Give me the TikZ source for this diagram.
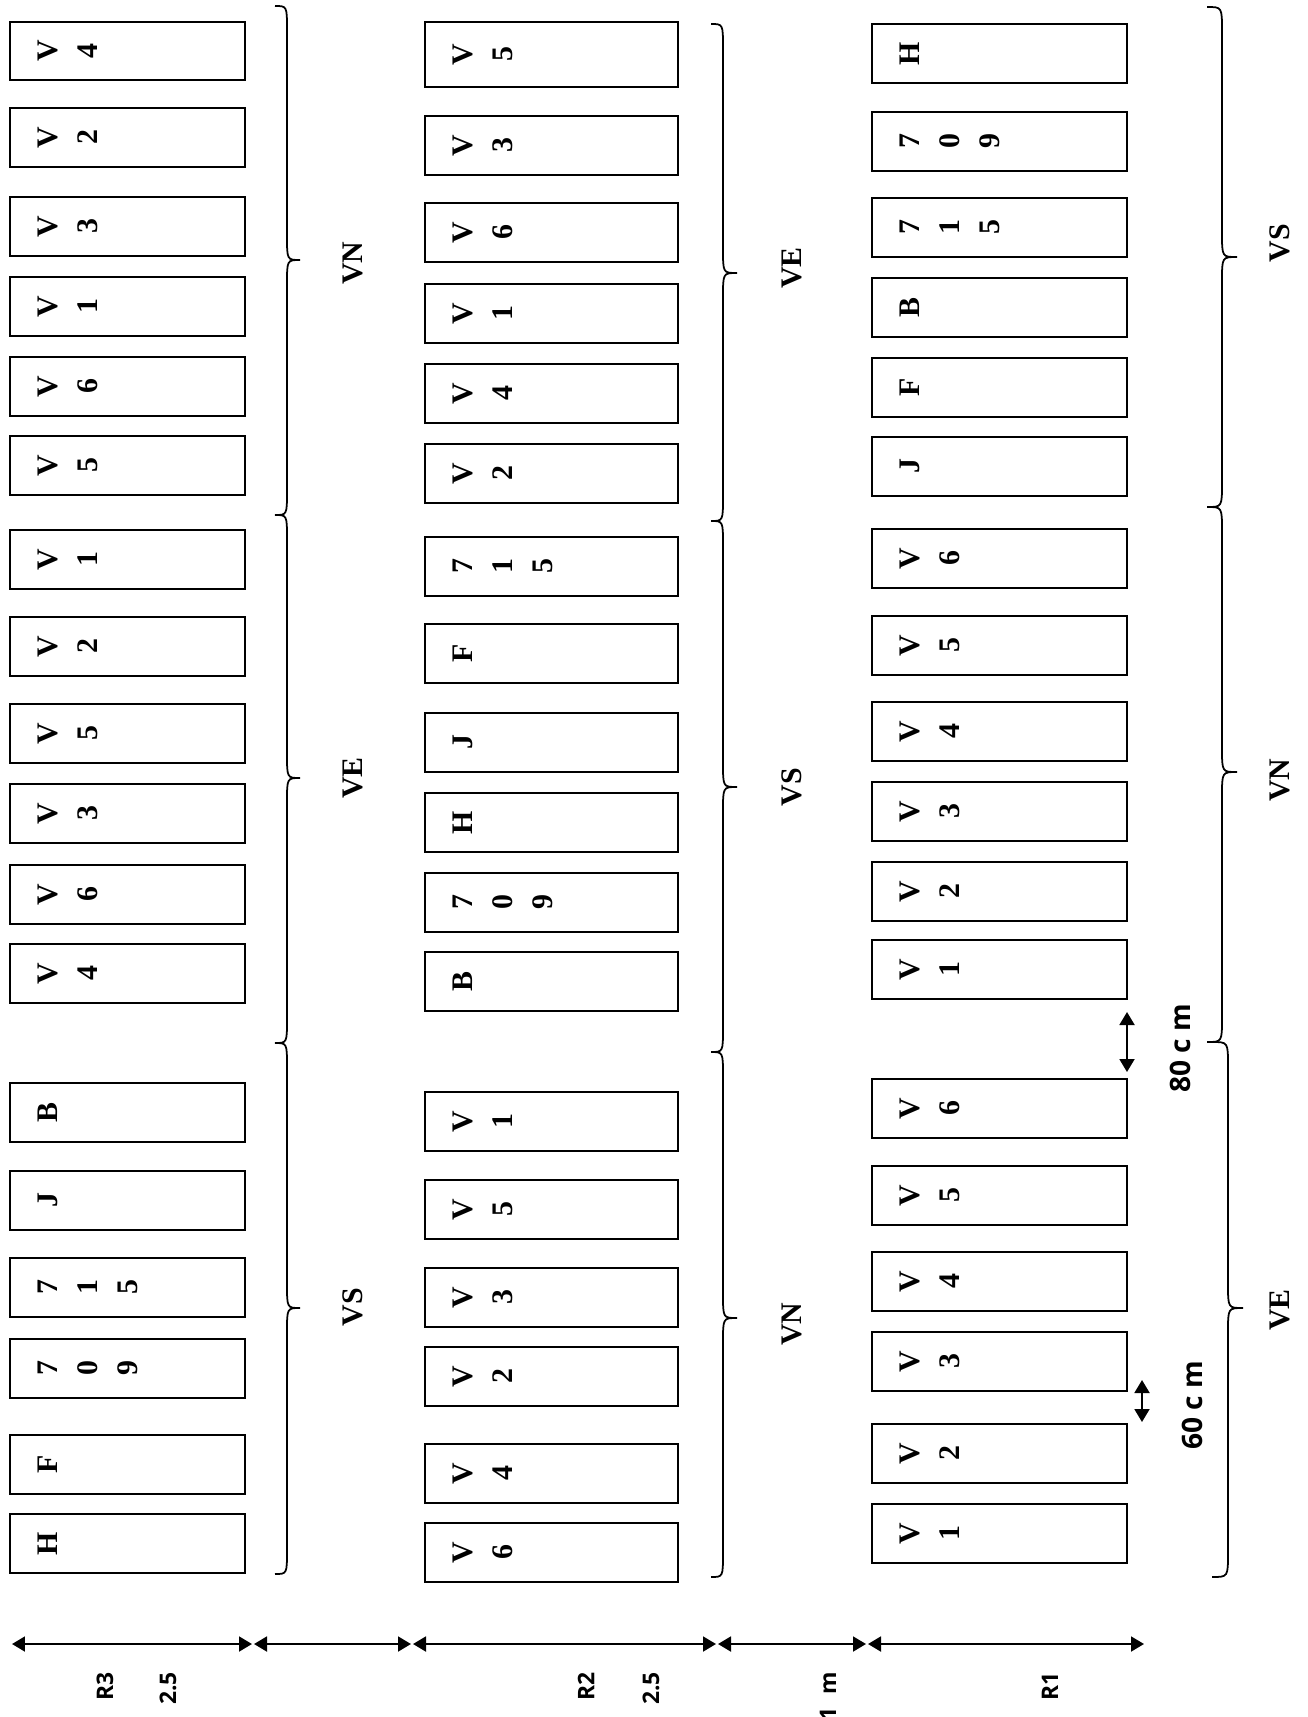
\documentclass[tikz,border=0pt]{standalone}
\usepackage{fontspec}
\setmainfont{Liberation Serif}
\newfontfamily\labsans{Open Sans}
\usetikzlibrary{arrows.meta}
\tikzset{
  plotbox/.style={draw, line width=1.1pt, rectangle, inner sep=0pt},
  ch/.style={rotate=90, inner sep=0pt, font=\fontsize{17}{20}\selectfont\bfseries},
  grp/.style={rotate=90, inner sep=0pt, font=\fontsize{17}{20}\selectfont\bfseries},
  dimlbl/.style={rotate=90, inner sep=0pt, font=\labsans\fontsize{16}{19}\selectfont\bfseries},
  rowlbl/.style={rotate=90, inner sep=0pt, anchor=east, font=\labsans\fontsize{13}{15}\selectfont\bfseries},
  curly/.style={line width=1pt},
  dimarrow/.style={line width=1.1pt, {Triangle[length=0.26cm,width=0.3cm]}-{Triangle[length=0.26cm,width=0.3cm]}},
}
% name, x left, width, y top, height, characters
\newcommand\fieldplot[6]{%
  \node[plotbox, minimum width=#3*0.02cm, minimum height=#5*0.02cm] (#1) at (#2+#3/2, #4+#5/2) {};
  \foreach \c [count=\i] in {#6} {\node[ch] (#1-\i) at (#2+38+\i*40-40, #4+#5/2) {\c};}
}
% x end, x straight, x tip, y top, y tip, y bottom
\newcommand\curly[6]{%
  \draw[curly] (#1,#4) .. controls (#2,#4) .. (#2,#4+24) -- (#2,#5-24)
    .. controls (#2,#5) .. (#3,#5) .. controls (#2,#5) .. (#2,#5+24)
    -- (#2,#6-24) .. controls (#2,#6) .. (#1,#6);
}
\begin{document}
\begin{tikzpicture}[x=0.02cm,y=-0.02cm]
\useasboundingbox (0,0) rectangle (1308,1717);
% ---------- column R3 ----------
\fieldplot{a1}{10}{235}{22}{58}{V,4}
\fieldplot{a2}{10}{235}{108}{59}{V,2}
\fieldplot{a3}{10}{235}{197}{59}{V,3}
\fieldplot{a4}{10}{235}{277}{59}{V,1}
\fieldplot{a5}{10}{235}{357}{59}{V,6}
\fieldplot{a6}{10}{235}{436}{59}{V,5}
\fieldplot{a7}{10}{235}{530}{59}{V,1}
\fieldplot{a8}{10}{235}{617}{59}{V,2}
\fieldplot{a9}{10}{235}{704}{59}{V,5}
\fieldplot{a10}{10}{235}{784}{59}{V,3}
\fieldplot{a11}{10}{235}{865}{59}{V,6}
\fieldplot{a12}{10}{235}{944}{59}{V,4}
\fieldplot{a13}{10}{235}{1083}{59}{B}
\fieldplot{a14}{10}{235}{1171}{59}{J}
\fieldplot{a15}{10}{235}{1258}{59}{7,1,5}
\fieldplot{a16}{10}{235}{1339}{59}{7,0,9}
\fieldplot{a17}{10}{235}{1435}{59}{F}
\fieldplot{a18}{10}{235}{1514}{59}{H}
\curly{275}{287}{300}{6}{260}{515}
\curly{275}{287}{300}{515}{778}{1043}
\curly{275}{287}{300}{1043}{1308}{1574}
\node[grp] (ga1) at (353,263) {VN};
\node[grp] (ga2) at (353,778) {VE};
\node[grp] (ga3) at (353,1307) {VS};
% ---------- column R2 ----------
\fieldplot{b1}{425}{253}{22}{65}{V,5}
\fieldplot{b2}{425}{253}{116}{59}{V,3}
\fieldplot{b3}{425}{253}{203}{59}{V,6}
\fieldplot{b4}{425}{253}{284}{59}{V,1}
\fieldplot{b5}{425}{253}{364}{59}{V,4}
\fieldplot{b6}{425}{253}{444}{59}{V,2}
\fieldplot{b7}{425}{253}{537}{59}{7,1,5}
\fieldplot{b8}{425}{253}{624}{59}{F}
\fieldplot{b9}{425}{253}{713}{59}{J}
\fieldplot{b10}{425}{253}{793}{59}{H}
\fieldplot{b11}{425}{253}{873}{59}{7,0,9}
\fieldplot{b12}{425}{253}{952}{59}{B}
\fieldplot{b13}{425}{253}{1092}{59}{V,1}
\fieldplot{b14}{425}{253}{1180}{59}{V,5}
\fieldplot{b15}{425}{253}{1268}{59}{V,3}
\fieldplot{b16}{425}{253}{1347}{59}{V,2}
\fieldplot{b17}{425}{253}{1444}{59}{V,4}
\fieldplot{b18}{425}{253}{1523}{59}{V,6}
\curly{711}{723}{737}{24}{273}{521}
\curly{711}{723}{737}{521}{787}{1052}
\curly{711}{723}{737}{1052}{1318}{1577}
\node[grp] (gb1) at (792,268) {VE};
\node[grp] (gb2) at (792,787) {VS};
\node[grp] (gb3) at (792,1324) {VN};
% ---------- column R1 ----------
\fieldplot{c1}{872}{255}{24}{59}{H}
\fieldplot{c2}{872}{255}{112}{59}{7,0,9}
\fieldplot{c3}{872}{255}{198}{59}{7,1,5}
\fieldplot{c4}{872}{255}{278}{59}{B}
\fieldplot{c5}{872}{255}{358}{59}{F}
\fieldplot{c6}{872}{255}{437}{59}{J}
\fieldplot{c7}{872}{255}{529}{59}{V,6}
\fieldplot{c8}{872}{255}{616}{59}{V,5}
\fieldplot{c9}{872}{255}{702}{59}{V,4}
\fieldplot{c10}{872}{255}{782}{59}{V,3}
\fieldplot{c11}{872}{255}{862}{59}{V,2}
\fieldplot{c12}{872}{255}{940}{59}{V,1}
\fieldplot{c13}{872}{255}{1079}{59}{V,6}
\fieldplot{c14}{872}{255}{1166}{59}{V,5}
\fieldplot{c15}{872}{255}{1252}{59}{V,4}
\fieldplot{c16}{872}{255}{1332}{59}{V,3}
\fieldplot{c17}{872}{255}{1424}{59}{V,2}
\fieldplot{c18}{872}{255}{1504}{59}{V,1}
\curly{1207}{1222}{1237}{7}{257}{507}
\curly{1207}{1222}{1237}{507}{772}{1042}
\curly{1212}{1228}{1243}{1042}{1308}{1577}
\node[grp] (gc1) at (1280,243) {VS};
\node[grp] (gc2) at (1280,780) {VN};
\node[grp] (gc3) at (1280,1310) {VE};
% ---------- spacing arrows ----------
\coordinate (s80a) at (1127,1012);
\coordinate (s80b) at (1127,1072);
\draw[dimarrow] (s80a) -- (s80b);
\node[dimlbl] (l80) at (1180,1048) {80 c m};
\coordinate (s60a) at (1142,1380);
\coordinate (s60b) at (1142,1422);
\draw[dimarrow] (s60a) -- (s60b);
\node[dimlbl] (l60) at (1192,1405) {60 c m};
% ---------- bottom width arrows ----------
\coordinate (w0) at (12,1644);
\coordinate (w1) at (252,1644);
\coordinate (w2) at (254,1644);
\coordinate (w3) at (411,1644);
\coordinate (w4) at (413,1644);
\coordinate (w5) at (716,1644);
\coordinate (w6) at (718,1644);
\coordinate (w7) at (866,1644);
\coordinate (w8) at (868,1644);
\coordinate (w9) at (1144,1644);
\draw[dimarrow] (w0) -- (w1);
\draw[dimarrow] (w2) -- (w3);
\draw[dimarrow] (w4) -- (w5);
\draw[dimarrow] (w6) -- (w7);
\draw[dimarrow] (w8) -- (w9);
\node[rowlbl] (r3) at (105,1672) {R3};
\node[rowlbl] (r3w) at (168,1672) {2.5};
\node[rowlbl] (r2) at (586,1672) {R2};
\node[rowlbl] (r2w) at (651,1672) {2.5};
\node[rowlbl] (gapw) at (828,1672) {1\hspace{0.55em}m};
\node[rowlbl] (r1) at (1050,1672) {R1};
\end{tikzpicture}
\end{document}
